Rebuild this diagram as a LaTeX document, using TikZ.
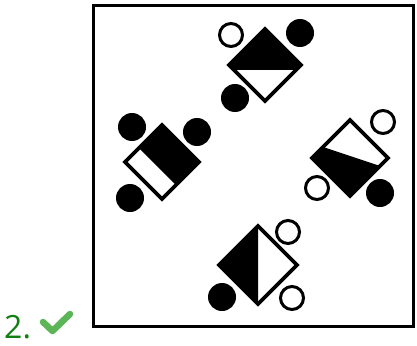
\documentclass[tikz,border=0pt]{standalone}
\usepackage{fontspec}
\setmainfont{Open Sans}
\definecolor{numgreen}{RGB}{16,128,16}
\definecolor{checkgreen}{RGB}{92,182,88}
\begin{document}
\begin{tikzpicture}[x=1pt,y=-1pt,
  frame/.style={draw=black,line width=2.6pt},
  outline/.style={draw=black,line width=3.6pt,line join=miter},
  blk/.style={fill=black},
  solid dot/.style={circle,fill=black,inner sep=0pt,minimum size=28pt},
  open dot/.style={circle,draw=black,line width=3pt,fill=white,inner sep=0pt,minimum size=23pt}]
\useasboundingbox (0,0) rectangle (417,345);
\draw[frame] (93.5,5.3) rectangle (413.5,326.3);
% label
\node[anchor=base west,inner sep=0pt,text=numgreen,font=\fontsize{32}{32}\selectfont] (lab) at (4,338) {2.};
\coordinate (c1) at (43,322);
\coordinate (c2) at (52.5,331);
\coordinate (c3) at (70,314);
\draw[checkgreen,line width=6.5pt,line cap=round,line join=round] (c1) -- (c2) -- (c3);
% ---- top shape ----
\coordinate (tL) at (229,65); \coordinate (tT) at (265,29);
\coordinate (tR) at (301,65); \coordinate (tB) at (265,101);
\fill[white] (tL)--(tT)--(tR)--(tB)--cycle;
\fill[blk] (tL)--(tT)--(tR)--(298,68)--(232,68)--cycle;
\draw[black,line width=3pt] (232,68)--(298,68);
\draw[outline] (tL)--(tT)--(tR)--(tB)--cycle;
\node[open dot] (t1) at (231,35) {};
\node[solid dot] (t2) at (300,33) {};
\node[solid dot] (t3) at (235,98) {};
% ---- left shape ----
\coordinate (lL) at (125,162); \coordinate (lT) at (162,125);
\coordinate (lR) at (199,162); \coordinate (lB) at (162,199);
\fill[white] (lL)--(lT)--(lR)--(lB)--cycle;
\fill[blk] (140,147)--(lT)--(lR)--(177,184)--cycle;
\draw[black,line width=3pt] (140,147)--(177,184);
\draw[outline] (lL)--(lT)--(lR)--(lB)--cycle;
\node[solid dot] (l1) at (132,127) {};
\node[solid dot] (l2) at (197,132) {};
\node[solid dot] (l3) at (130,198) {};
% ---- right shape ----
\coordinate (rL) at (312,158); \coordinate (rT) at (350,120);
\coordinate (rR) at (388,158); \coordinate (rB) at (350,196);
\fill[white] (rL)--(rT)--(rR)--(rB)--cycle;
\fill[blk] (rL)--(323,147)--(380,166)--(rB)--cycle;
\draw[outline] (rL)--(rT)--(rR)--(rB)--cycle;
\node[open dot] (r1) at (383,122) {};
\node[open dot] (r2) at (317,188) {};
\node[solid dot] (r3) at (380,193) {};
% ---- bottom shape ----
\coordinate (bL) at (219,265); \coordinate (bT) at (258,226);
\coordinate (bR) at (297,265); \coordinate (bB) at (258,304);
\fill[white] (bL)--(bT)--(bR)--(bB)--cycle;
\fill[blk] (bL)--(bT)--(bB)--cycle;
\draw[outline] (bL)--(bT)--(bR)--(bB)--cycle;
\node[open dot] (b1) at (288,232) {};
\node[open dot] (b2) at (292,298) {};
\node[solid dot] (b3) at (222,297) {};
\end{tikzpicture}
\end{document}
